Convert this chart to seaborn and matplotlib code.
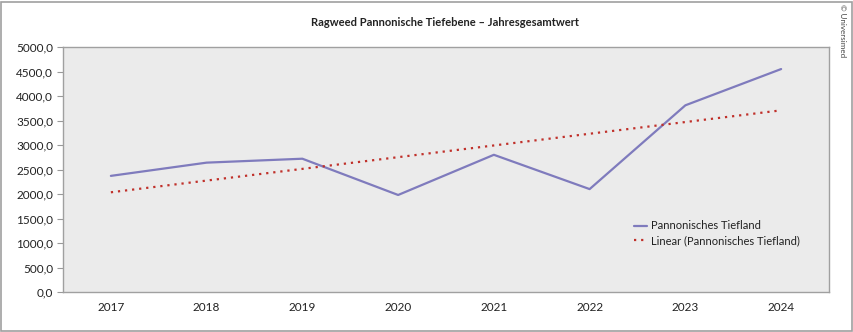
import numpy as np
import pandas as pd
import seaborn as sns
import matplotlib.pyplot as plt
from matplotlib.patches import Rectangle

years = ["2017", "2018", "2019", "2020", "2021", "2022", "2023", "2024"]
totals = [2370, 2640, 2720, 1980, 2800, 2100, 3810, 4550]
series_label = "Pannonisches Tiefland"
trend_label = "Linear (Pannonisches Tiefland)"
title = "Ragweed Pannonische Tiefebene – Jahresgesamtwert"
y_ticks = [0, 500, 1000, 1500, 2000, 2500, 3000, 3500, 4000, 4500, 5000]

sns.set_theme(style="white")
plt.rcParams["font.family"] = ["Lato", "DejaVu Sans"]

idx = np.arange(len(years))
slope, intercept = np.polyfit(idx, totals, 1)
trend = slope * idx + intercept

df = pd.DataFrame({"idx": idx, "total": totals, "trend": trend})

fig = plt.figure(figsize=(8.54, 3.32), dpi=100)
ax = fig.add_axes([63 / 854, 1 - 292 / 332, (829 - 63) / 854, (292 - 47) / 332])
ax.set_facecolor("#ebebeb")

sns.lineplot(data=df, x="idx", y="total", ax=ax, color="#7f7bbd", linewidth=1.6,
             label=series_label)
sns.lineplot(data=df, x="idx", y="trend", ax=ax, color="#c0302a", linewidth=1.6,
             linestyle=(0, (1, 2.2)), label=trend_label)

ax.set_xlim(-0.5, len(years) - 0.5)
ax.set_ylim(0, 5000)
ax.set_xticks(idx)
ax.set_xticklabels(years)
ax.set_yticks(y_ticks)
ax.set_yticklabels([f"{v:.1f}".replace(".", ",") for v in y_ticks])
ax.set_xlabel("")
ax.set_ylabel("")
ax.tick_params(axis="y", which="both", left=True, length=4, width=0.8,
               color="#999999", labelsize=8.5, pad=3, labelcolor="#222222")
ax.tick_params(axis="x", bottom=False, labelsize=8.5, pad=1.5, labelcolor="#222222")
for side in ["left", "bottom", "top", "right"]:
    ax.spines[side].set_visible(True)
    ax.spines[side].set_color("#a0a0a0")
    ax.spines[side].set_linewidth(1.0)

leg = ax.legend(loc="upper left", bbox_to_anchor=(0.74, 0.31), frameon=False,
                fontsize=8, handlelength=1.1, handletextpad=0.4,
                labelspacing=0.3, borderaxespad=0)
for t in leg.get_texts():
    t.set_color("#222222")

fig.text(445 / 854, 1 - 22 / 332, title, ha="center", va="center",
         fontsize=8, fontweight="bold", color="#222222")
fig.text(843 / 854, 1 - 31 / 332, "© Universimed", rotation=270,
         ha="center", va="center", fontsize=5.8, color="#444444")

fig.patches.append(Rectangle((1 / 854, 1 / 332), 851 / 854, 329 / 332,
                             transform=fig.transFigure, fill=False,
                             edgecolor="#a0a0a0", linewidth=1.2))

fig.savefig("out.png", dpi=100)
